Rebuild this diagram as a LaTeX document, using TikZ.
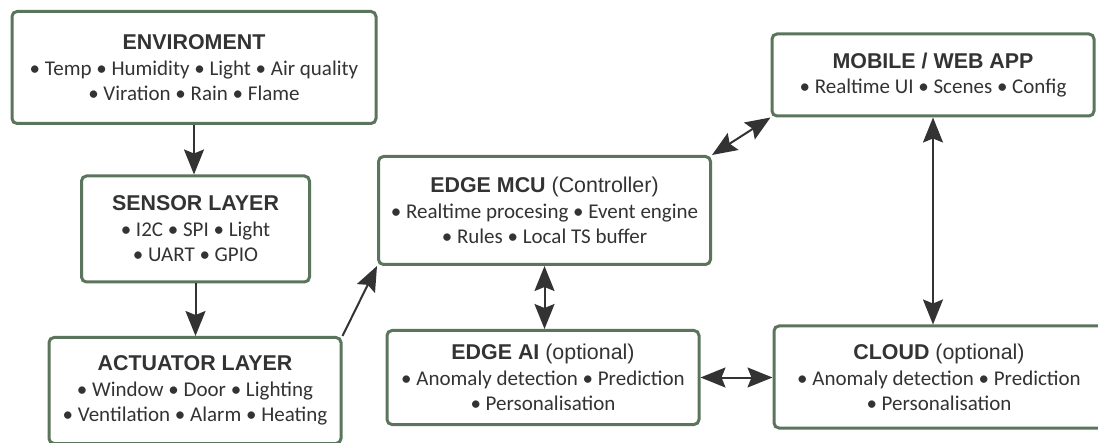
\documentclass[tikz,border=0pt]{standalone}
\usepackage{fontspec}
\setmainfont{Carlito}
\newfontfamily\headfont{Liberation Sans}
\usetikzlibrary{arrows.meta}

\definecolor{boxgreen}{RGB}{91,117,92}
\definecolor{inkgray}{RGB}{51,51,51}
\newcommand{\head}[2]{{\headfont\fontsize{10.7}{13}\selectfont\textbf{#1}#2}\\[0.4pt]}

\begin{document}
\begin{tikzpicture}[x=0.5pt,y=-0.5pt]
    \tikzstyle{every node}=[font=\fontsize{10.5}{12.5}\selectfont, text=inkgray]
    \tikzstyle{block}=[draw=boxgreen, line width=1.5pt, rounded corners=2.5pt,
        fill=white, align=center, inner sep=0pt]
    \tikzstyle{arr}=[draw=inkgray, line width=1pt,
        -{Stealth[length=12.5pt,width=10pt,inset=2pt]}]
    \tikzstyle{biarr}=[draw=inkgray, line width=1pt,
        {Stealth[length=12.5pt,width=10pt,inset=2pt]}-{Stealth[length=12.5pt,width=10pt,inset=2pt]}]

    \useasboundingbox (0,0) rectangle (1098,443);

    % left column
    \node[block, minimum width=182pt, minimum height=56pt] (env) at (194,67.5)
        {\head{ENVIROMENT}{}
         • Temp • Humidity • Light • Air quality\\
         • Viration • Rain • Flame};
    \node[block, minimum width=114pt, minimum height=53pt] (sensor) at (195.5,229)
        {\head{SENSOR LAYER}{}
         • I2C • SPI • Light\\
         • UART • GPIO};
    \node[block, minimum width=146pt, minimum height=53pt] (act) at (195,390.5)
        {\head{ACTUATOR LAYER}{}
         • Window • Door • Lighting\\
         • Ventilation • Alarm • Heating};

    % middle and right
    \node[block, minimum width=166pt, minimum height=54pt] (mcu) at (544.5,210.5)
        {\head{EDGE MCU}{ (Controller)}
         • Realtime procesing • Event engine\\
         • Rules • Local TS buffer};
    \node[block, minimum width=161pt, minimum height=41pt] (app) at (933,75)
        {\head{MOBILE / WEB APP}{}
         • Realtime UI • Scenes • Config};
    \node[block, minimum width=156pt, minimum height=47pt] (ai) at (543,377.5)
        {\head{EDGE AI}{ (optional)}
         • Anomaly detection • Prediction\\
         • Personalisation};
    \node[block, minimum width=165pt, minimum height=51pt] (cloud) at (939,377)
        {\head{CLOUD}{ (optional)}
         • Anomaly detection • Prediction\\
         • Personalisation};

    % connectors
    \draw[arr] (env.south) -- (env.south |- sensor.north);
    \draw[arr] (sensor.south) -- (sensor.south |- act.north);
    \draw[arr] (act.north east) -- (mcu.south west);
    \draw[biarr] (mcu.north east) -- (app.south west);
    \draw[biarr] (app.south) -- (app.south |- cloud.north);
    \draw[biarr] (mcu.south) -- (mcu.south |- ai.north);
    \draw[biarr] (ai.east) -- (ai.east -| cloud.west);
\end{tikzpicture}
\end{document}
